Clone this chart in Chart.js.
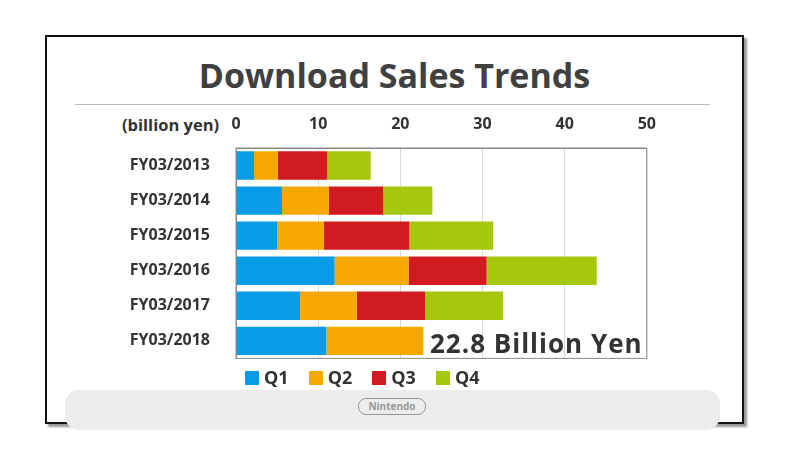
<!DOCTYPE html>
<html><head><meta charset="utf-8">
<script src="https://cdn.jsdelivr.net/npm/chart.js@4"></script>
<style>
body{margin:0;background:#fff;width:786px;height:449px;position:relative;font-family:"Open Sans",sans-serif;overflow:hidden}
#frame{position:absolute;left:45px;top:35px;width:695px;height:385px;border:2px solid #111;box-shadow:3px 3px 2px #999;background:#fff}
#title{position:absolute;left:45px;width:699px;top:52px;text-align:center;font-size:34px;font-weight:bold;color:#404040}
#rule{position:absolute;left:75px;top:104px;width:635px;height:1px;background:#bbb}
#unit{position:absolute;left:122px;top:113px;font-size:16.5px;font-weight:bold;color:#333}
#foot{position:absolute;left:65px;top:390px;width:655px;height:40px;background:#ececec;border-radius:14px}
#logo{position:absolute;left:358px;top:398px;width:66px;height:15px;border:1.5px solid #999;border-radius:8px;font-size:10px;font-weight:bold;color:#999;text-align:center;line-height:15px}
#note{position:absolute;left:430px;top:325px;font-size:26px;font-weight:bold;color:#333;letter-spacing:1px}
#wrap{position:absolute;left:100px;top:112px;width:570px;height:274px}
#legend{position:absolute;left:245px;top:365px;font-size:18px;font-weight:bold;color:#333;white-space:nowrap}
#legend span{display:inline-block;margin-right:20px}
#legend i{display:inline-block;width:14px;height:14px;margin-right:5px;vertical-align:-1px}
</style></head><body>
<div id="frame"></div>
<div id="foot"></div>
<div id="logo">Nintendo</div>
<div id="title">Download Sales Trends</div>
<div id="rule"></div>
<div id="unit">(billion yen)</div>
<div id="wrap"><canvas id="c"></canvas></div>
<div id="note">22.8 Billion Yen</div>
<div id="legend"></div>
<script>
const years = ["FY03/2013","FY03/2014","FY03/2015","FY03/2016","FY03/2017","FY03/2018"];
const q1 = [2.2, 5.6, 5.0, 12.0, 7.8, 11.0];
const q2 = [2.9, 5.7, 5.7, 9.0, 6.9, 11.8];
const q3 = [6.0, 6.6, 10.4, 9.5, 8.3, null];
const q4 = [5.3, 6.0, 10.2, 13.4, 9.5, null];
const xTicks = [0, 10, 20, 30, 40, 50];

const color = {Blue:"#0a9be6", Orange:"#f5a800", Red:"#d21a21", Green:"#a5c80f"};

const chart = new Chart(document.getElementById("c"), {
  type: "bar",
  data: {
    labels: years,
    datasets: [
      {label:"Q1", data:q1, backgroundColor:color.Blue},
      {label:"Q2", data:q2, backgroundColor:color.Orange},
      {label:"Q3", data:q3, backgroundColor:color.Red},
      {label:"Q4", data:q4, backgroundColor:color.Green},
    ]
  },
  options: {
    indexAxis: "y",
    responsive: true,
    maintainAspectRatio: false,
    animation: false,
    layout: {padding: {right: 23, bottom: 0}},
    datasets: {bar: {barPercentage: 0.88, categoryPercentage: 0.92}},
    plugins: {legend: {display: false}, tooltip: {enabled: false}},
    scales: {
      x: {
        position: "top", stacked: true, min: 0, max: 50,
        afterBuildTicks: a => { a.ticks = xTicks.map(v => ({value: v})); },
        afterFit: a => { a.height = 36; },
        grid: {color: "#d9d9d9", drawTicks: false},
        border: {color: "#888"},
        ticks: {padding: 14, color: "#333", font: {size: 16, weight: "bold", family: "Open Sans"}}
      },
      y: {
        stacked: true,
        afterFit: a => { a.width = 136; },
        grid: {display: false},
        border: {color: "#888"},
        ticks: {padding: 18, color: "#333", font: {size: 16, weight: "bold", family: "Open Sans"}}
      }
    }
  },
  plugins: [{
    id: "box",
    afterDraw(chart) {
      const a = chart.chartArea, ctx = chart.ctx;
      ctx.save(); ctx.strokeStyle = "#888"; ctx.lineWidth = 1;
      ctx.strokeRect(a.left, a.top, a.right - a.left, a.bottom - a.top);
      ctx.restore();
    }
  }]
});

document.getElementById("legend").innerHTML = chart.data.datasets
  .map(d => `<span><i style="background:${d.backgroundColor}"></i>${d.label}</span>`).join("");
</script>
</body></html>
